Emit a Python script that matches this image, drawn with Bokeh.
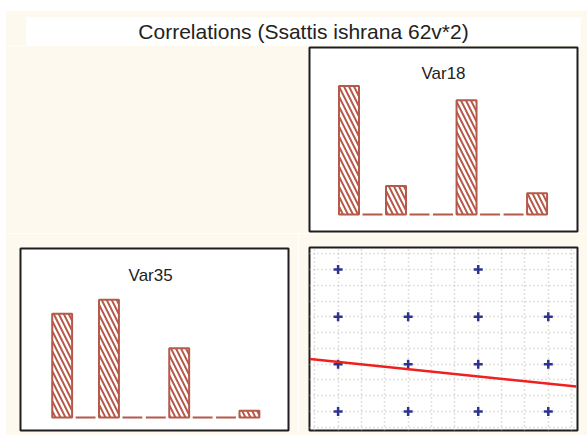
from bokeh.plotting import figure
from bokeh.layouts import column, row
from bokeh.models import Range1d, Label, SingleIntervalTicker
from bokeh.core.properties import value
from bokeh.embed import file_html
from bokeh.resources import INLINE

# ---------------- data ----------------
title_text = "Correlations (Ssattis ishrana 62v*2)"
bins = [0, 1, 2, 3, 4, 5, 6, 7, 8]
var18_counts = [18, 0, 4, 0, 0, 16, 0, 0, 3]
var35_counts = [15, 0, 17, 0, 0, 10, 0, 0, 1]
scatter_x = [1, 3, 1, 2, 3, 4, 1, 2, 3, 4, 1, 2, 3, 4]
scatter_y = [4, 4, 3, 3, 3, 3, 2, 2, 2, 2, 1, 1, 1, 1]
fit_x = [0.6, 4.4]
fit_y = [2.107, 1.527]

# ---------------- style ----------------
CREAM = "#fdf9ef"
BAR = "#b5594a"
FONT = "Liberation Sans"
BORDER = "#1e1e1e"


def base_fig(width, height, xr, yr, ml, mr, mt, mb, outline=True):
    p = figure(width=width, height=height, x_range=Range1d(*xr), y_range=Range1d(*yr),
               min_border_left=ml, min_border_right=mr, min_border_top=mt, min_border_bottom=mb,
               toolbar_location=None, output_backend="svg",
               x_axis_location=None, y_axis_location=None,
               background_fill_color="white", border_fill_color=CREAM,
               frame_align=False)
    if outline:
        p.outline_line_color = BORDER
        p.outline_line_width = 2
    else:
        p.outline_line_color = None
    return p


# header (title strip)
hdr = base_fig(582, 35, (0, 1), (0, 1), 21, 7, 7, 1, outline=False)
hdr.grid.visible = False
hdr.add_layout(Label(x=0.5, y=0.5, text=title_text, text_align="center", text_baseline="middle",
                     text_font=FONT, text_font_size="21px", text_color="#222222"))


def bar_panel(counts, name, width, height, ml, mr, mt, mb, xr, yr, lx, ly):
    p = base_fig(width, height, xr, yr, ml, mr, mt, mb)
    p.grid.visible = False
    p.vbar(x=bins, top=counts, bottom=0, width=0.85, fill_color="white",
           line_color=BAR, line_width=2,
           hatch_pattern=value("\\"), hatch_color=BAR, hatch_scale=10, hatch_weight=2)
    p.add_layout(Label(x=lx, y=ly, text=name, text_align="center", text_baseline="alphabetic",
                       text_font=FONT, text_font_size="17px", text_color="#222222"))
    return p


p18 = bar_panel(var18_counts, "Var18", 582, 188, 304, 10, 2, 2,
                (-1.68, 9.72), (-2.37, 23.4), 4.02, 19.76)
p35 = bar_panel(var35_counts, "Var35", 293, 202, 15, 10, 15, 5,
                (-1.78, 9.67), (-1.86, 24.4), 3.78, 20.55)

# scatter panel
ps = base_fig(289, 202, (0.592, 4.417), (0.596, 4.467), 11, 10, 14, 5)
for g in (ps.xgrid[0], ps.ygrid[0]):
    g.ticker = SingleIntervalTicker(interval=1 / 3, num_minor_ticks=0)
    g.grid_line_color = "#c8c2ba"
    g.grid_line_dash = "1 3"
    g.grid_line_width = 1.5
ps.scatter(scatter_x, scatter_y, marker="cross", size=9, line_color="#2b3490", line_width=2.5)
ps.line(fit_x, fit_y, line_color="#ee2020", line_width=2.5)

layout = column(hdr, p18, row(p35, ps), margin=(10, 0, 0, 5))

open("out.html", "w").write(file_html(layout, INLINE))
